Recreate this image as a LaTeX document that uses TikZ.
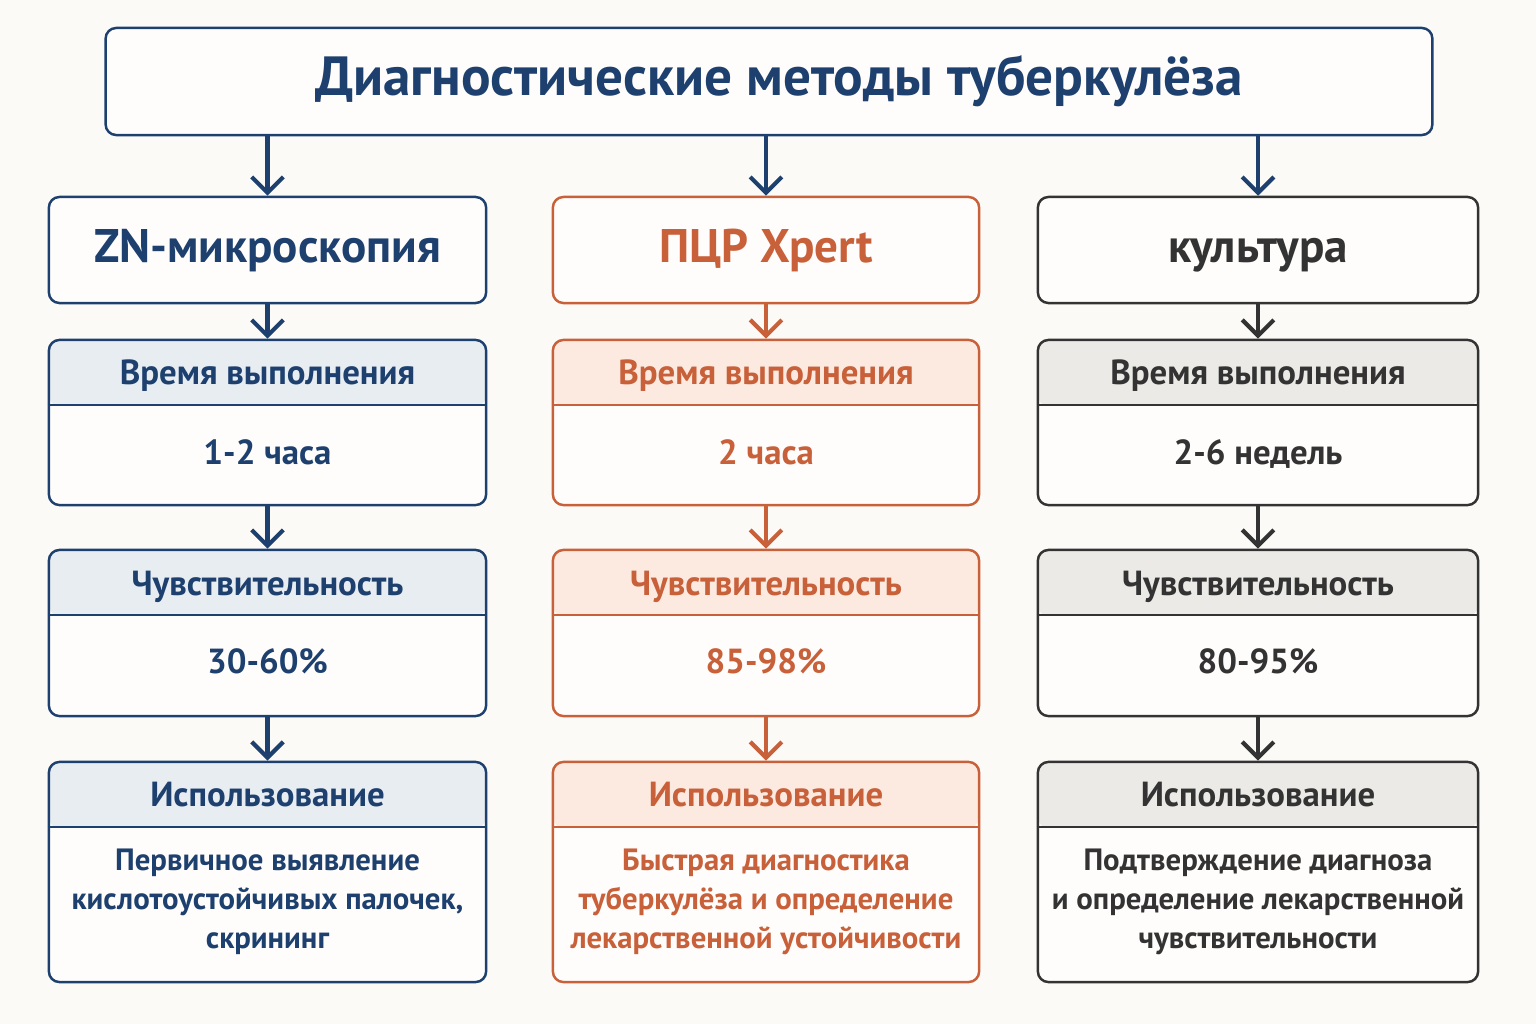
\documentclass[tikz,border=0pt]{standalone}
\usepackage{fontspec}
\setmainfont{PT Sans}
\usetikzlibrary{arrows.meta}
\definecolor{bg}{HTML}{FCFAF6}
\definecolor{paper}{HTML}{FFFDFB}
\definecolor{navy}{HTML}{1D406E}
\definecolor{navylt}{HTML}{E8EDF2}
\definecolor{rust}{HTML}{C8603A}
\definecolor{rustlt}{HTML}{FCEAE0}
\definecolor{coal}{HTML}{333333}
\definecolor{coallt}{HTML}{EBEAE6}
\begin{document}
\begin{tikzpicture}[x=0.01cm,y=-0.01cm,
  card/.style={draw,line width=0.7pt,rounded corners=3pt,fill=paper,inner sep=0pt},
  hcard/.style={card,path picture={\fill[#1] (path picture bounding box.north west) rectangle ([yshift=-0.66cm]path picture bounding box.north east);}},
  arr/.style={line width=1.2pt,-{Straight Barb[length=4.5pt,width=9pt]}},
  lbl/.style={font=\fontsize{9.9}{11}\selectfont\bfseries,text height=0.75em,text depth=0.15em},
  txt/.style={font=\fontsize{8.75}{11.1}\selectfont\bfseries,align=center}]
\useasboundingbox (0,0) rectangle (1536,1024);
\fill[bg] (0,0) rectangle (1536,1024);
\node[card,draw=navy,minimum width=13.26cm,minimum height=1.07cm] (title) at (769,81.5) {};
\node[text=navy,font=\fontsize{15.7}{18}\selectfont\bfseries] (titletext) at (779,81) {Диагностические методы туберкулёза};
\foreach \n/\x/\w/\col/\lt/\head/\tm/\sn/\us in {
  a/267.5/4.37cm/navy/navylt/ZN-микроскопия/1-2 часа/30-60\%/{Первичное выявление\\кислотоустойчивых палочек,\\скрининг},
  b/766/4.26cm/rust/rustlt/ПЦР Xpert/2 часа/85-98\%/{Быстрая диагностика\\туберкулёза и определение\\лекарственной устойчивости},
  c/1258/4.40cm/coal/coallt/культура/2-6 недель/80-95\%/{Подтверждение диагноза\\и определение лекарственной\\чувствительности}}{
  \node[card,draw=\col,minimum width=\w,minimum height=1.06cm,text=\col,text height=0.8em,text depth=0.1em,font=\fontsize{13.4}{15}\selectfont\bfseries] (h\n) at (\x,250) {\head};
  \node[hcard=\lt,draw=\col,minimum width=\w,minimum height=1.65cm] (t\n) at (\x,422.5) {};
  \node[hcard=\lt,draw=\col,minimum width=\w,minimum height=1.66cm] (s\n) at (\x,633) {};
  \node[hcard=\lt,draw=\col,minimum width=\w,minimum height=2.20cm] (u\n) at (\x,872) {};
  \foreach \b in {t,s,u}
    \draw[\col,line width=0.7pt] ([yshift=-0.66cm]\b\n.north west) -- ([yshift=-0.66cm]\b\n.north east);
  \node[lbl,text=\col] (tl\n) at (\x,374) {Время выполнения};
  \node[lbl,text=\col] (tv\n) at (\x,454) {\tm};
  \node[lbl,text=\col] (sl\n) at (\x,585) {Чувствительность};
  \node[lbl,text=\col] (sv\n) at (\x,663) {\sn};
  \node[lbl,text=\col] (ul\n) at (\x,796) {Использование};
  \node[txt,text=\col] (uv\n) at (\x,902) {\us};
  % arrows down the column
  \draw[arr,navy] (title.south -| h\n) -- (h\n);
  \draw[arr,\col] (h\n) -- (t\n);
  \draw[arr,\col] (t\n) -- (s\n);
  \draw[arr,\col] (s\n) -- (u\n);
}
\end{tikzpicture}
\end{document}
